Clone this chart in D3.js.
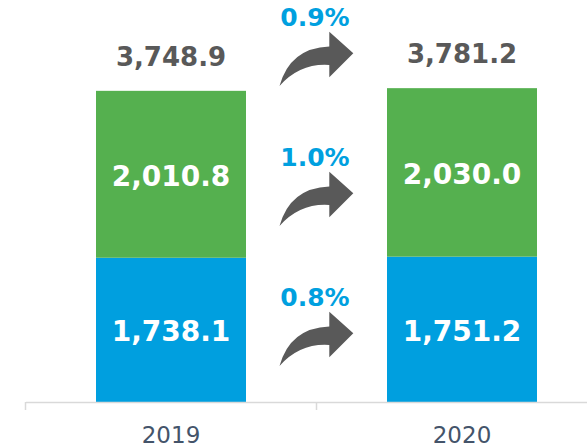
<!DOCTYPE html>
<html>
<head>
<meta charset="utf-8">
<script src="https://cdn.jsdelivr.net/npm/d3@7"></script>
<style>
  html, body { margin: 0; padding: 0; background: #fff; }
  text { font-family: "DejaVu Sans", Verdana, sans-serif; }
</style>
</head>
<body>
<div id="chart"></div>
<script>
var width = 587, height = 448;

// data
var years = ["2019", "2020"];
var blueVals = [1738.1, 1751.2];
var greenVals = [2010.8, 2030.0];
var totals = [3748.9, 3781.2];
var rows = ["total", "green", "blue"];
var pctLabels = ["0.9%", "1.0%", "0.8%"];

var svg = d3.select("#chart")
  .append("svg")
    .attr("width", width)
    .attr("height", height);

// scales
var x = d3.scaleBand().domain(years).range([25.5, 607.5]).paddingInner(0).paddingOuter(0);
var barW = 150;
var y = d3.scaleLinear().domain([0, 4000]).range([402, 70]);
var rowY = d3.scalePoint().domain(rows).range([0, 280]);

var fmt = d3.format(",.1f");

// stacked data
var stacked = years.map(function(yr, i) {
  return [
    {year: yr, y0: 0, y1: blueVals[i], v: blueVals[i], color: "#009fdf"},
    {year: yr, y0: blueVals[i], y1: blueVals[i] + greenVals[i], v: greenVals[i], color: "#55b04f"}
  ];
});
var segs = [].concat.apply([], stacked);

svg.selectAll(".seg")
  .data(segs)
  .enter()
  .append("rect")
    .attr("class", "seg")
    .attr("x", function(d) { return x(d.year) + x.bandwidth() / 2 - barW / 2; })
    .attr("width", barW)
    .attr("y", function(d) { return y(d.y1); })
    .attr("height", function(d) { return y(d.y0) - y(d.y1); })
    .attr("fill", function(d) { return d.color; });

svg.selectAll(".segLabel")
  .data(segs)
  .enter()
  .append("text")
    .attr("class", "segLabel")
    .attr("x", function(d) { return x(d.year) + x.bandwidth() / 2; })
    .attr("y", function(d) { return (y(d.y0) + y(d.y1)) / 2 + 11.5; })
    .attr("text-anchor", "middle")
    .attr("fill", "#fff")
    .attr("font-weight", "bold")
    .attr("font-size", 28)
    .text(function(d) { return fmt(d.v); });

// totals above bars
svg.selectAll(".total")
  .data(totals)
  .enter()
  .append("text")
    .attr("class", "total")
    .attr("x", function(d, i) { return x(years[i]) + x.bandwidth() / 2; })
    .attr("y", function(d) { return y(d) - 25; })
    .attr("text-anchor", "middle")
    .attr("fill", "#595959")
    .attr("font-weight", "bold")
    .attr("font-size", 26)
    .text(function(d) { return fmt(d); });

// x axis
var xAxis = d3.axisBottom(x).tickSize(0).tickPadding(0);
var gx = svg.append("g")
  .attr("transform", "translate(0,402)")
  .call(xAxis);
gx.select(".domain").attr("stroke", "#d9d9d9").attr("stroke-width", 1.5);
gx.selectAll(".tick text")
  .attr("fill", "#44546a")
  .attr("font-size", 23)
  .attr("font-family", "DejaVu Sans, Verdana, sans-serif")
  .attr("dy", 0)
  .attr("y", 41);
// category boundary ticks
var bounds = [x(years[0]), x(years[1]), x(years[1]) + x.bandwidth()];
gx.selectAll(".bound")
  .data(bounds)
  .enter()
  .append("line")
    .attr("x1", function(d) { return d; })
    .attr("x2", function(d) { return d; })
    .attr("y1", 0)
    .attr("y2", 8)
    .attr("stroke", "#d9d9d9")
    .attr("stroke-width", 1.5);

// growth arrows and labels
var midX = x(years[1]);
var arrowPath = "M9.5,86 Q20,48 59.3,46.5 L59.3,31.7 L83.3,53.3 L59.3,77.3 L59.3,65 Q30,63 9.5,86 Z";

var growth = svg.selectAll(".growth")
  .data(rows)
  .enter()
  .append("g")
    .attr("class", "growth")
    .attr("transform", function(d) { return "translate(0," + rowY(d) + ")"; });

growth.append("text")
  .attr("x", midX - 1.5)
  .attr("y", 26)
  .attr("text-anchor", "middle")
  .attr("fill", "#00a0df")
  .attr("font-weight", "bold")
  .attr("font-size", 25)
  .text(function(d, i) { return pctLabels[i]; });

growth.append("path")
  .attr("transform", "translate(" + (midX - 46.5) + ",0)")
  .attr("d", arrowPath)
  .attr("fill", "#595959");
</script>
</body>
</html>
